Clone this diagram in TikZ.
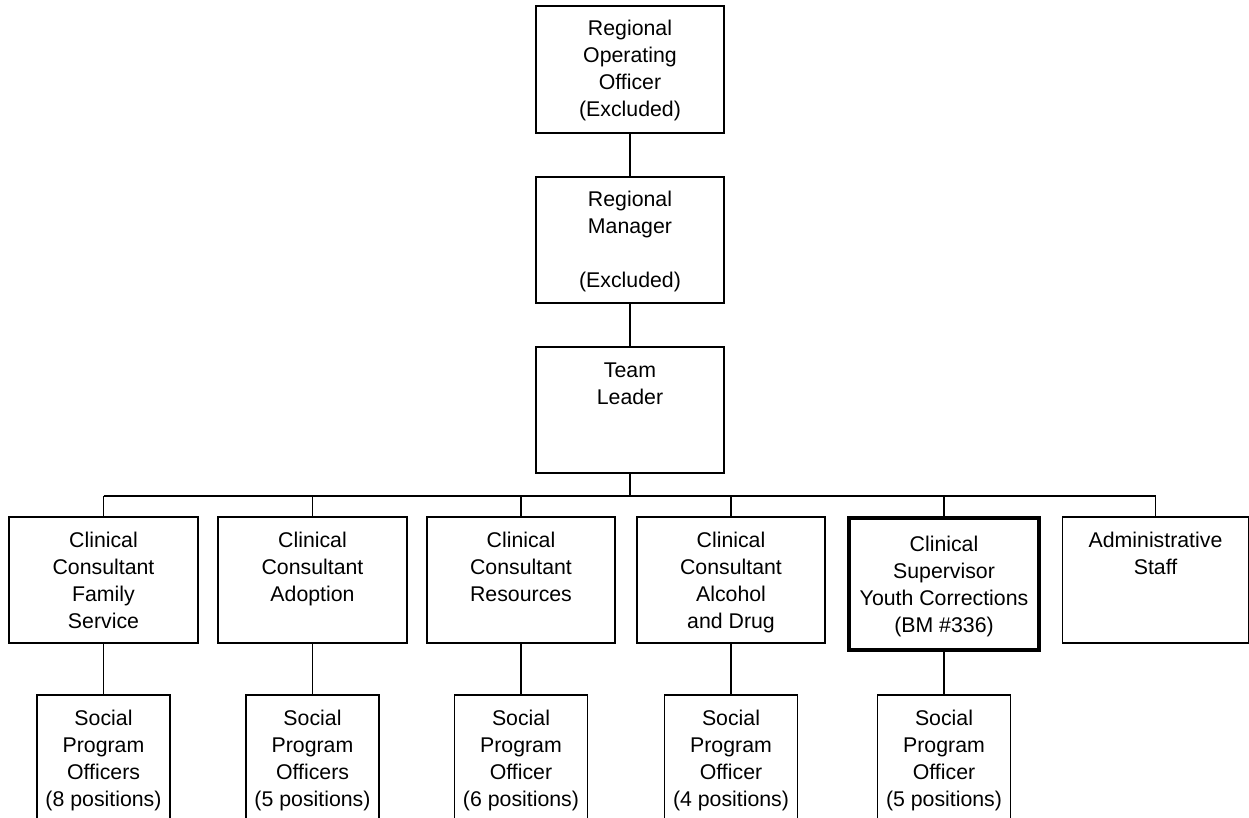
\documentclass[tikz,border=0pt]{standalone}
\usepackage{fontspec}
\setmainfont{Liberation Sans}
\newcommand{\boite}[3]{\parbox[c][#1][t]{#2}{\centering\rule{0pt}{30pt}#3}}
\tikzset{
	poste/.style={draw, rectangle, inner sep=0pt, line width=1.3pt, font=\fontsize{21.3}{27}\selectfont},
	lien/.style={line width=1.3pt},
}
\begin{document}
\begin{tikzpicture}[x=1pt,y=-1pt]
%					Cadre :
					\useasboundingbox (0,0) rectangle (1249,818);
					\clip (0,0) rectangle (1249,818);
%					Direction :
					\node[poste] (roo) at (630,69.5) {\boite{127pt}{188pt}{Regional\\Operating\\Officer\\(Excluded)}};
					\node[poste] (rm) at (630,240) {\boite{126pt}{188pt}{Regional\\Manager\\[27pt](Excluded)}};
					\node[poste] (tl) at (630,410) {\boite{126pt}{188pt}{Team\\Leader}};
%					Consultants :
					\node[poste] (c1) at (103.5,580) {\boite{126pt}{189pt}{Clinical\\Consultant\\Family\\Service}};
					\node[poste] (c2) at (312.5,580) {\boite{126pt}{189pt}{Clinical\\Consultant\\Adoption}};
					\node[poste] (c3) at (521,580) {\boite{126pt}{188pt}{Clinical\\Consultant\\Resources}};
					\node[poste] (c4) at (731,580) {\boite{126pt}{188pt}{Clinical\\Consultant\\Alcohol\\and Drug}};
					\node[poste,line width=4pt] (c5) at (944,584) {\boite{132pt}{190pt}{\rule{0pt}{33pt}Clinical\\Supervisor\\Youth Corrections\\(BM \#336)}};
					\node[poste] (c6) at (1155.5,580) {\boite{126pt}{186pt}{Administrative\\Staff}};
%					Agents :
					\foreach \i/\x/\nom/\nb in {1/103.5/Officers/8, 2/312.5/Officers/5, 3/521/Officer/6, 4/731/Officer/4, 5/944/Officer/5}
						\node[poste] (s\i) at (\x,760) {\boite{130pt}{133pt}{Social\\Program\\\nom\\(\nb{} positions)}};
%					Liens :
					\coordinate (bus) at (630,496);
					\draw[lien] (roo) -- (rm);
					\draw[lien] (rm) -- (tl);
					\draw[lien] (tl) -- (bus);
					\draw[lien] (c1.north |- bus) -- (c6.north |- bus);
					\foreach \n in {c1,c2,c3,c4,c5,c6}
						\draw[lien] (\n.north |- bus) -- (\n.north);
					\foreach \i in {1,...,5}
						\draw[lien] (c\i.south) -- (s\i.north);
				\end{tikzpicture}
\end{document}
